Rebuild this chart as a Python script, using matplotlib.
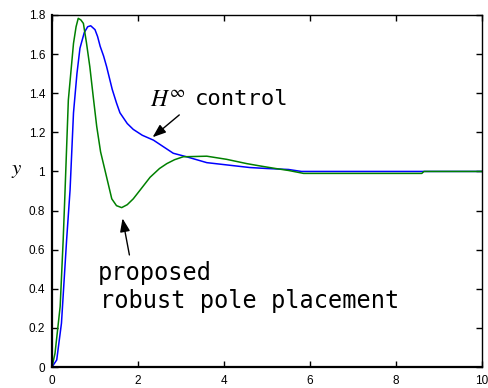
import matplotlib
matplotlib.use("Agg")
import matplotlib.pyplot as plt

# step responses
t_hinf = [0, 0.11, 0.22, 0.34, 0.42, 0.50, 0.58, 0.65, 0.75, 0.83, 0.90, 1.00, 1.06, 1.12, 1.20,
          1.27, 1.40, 1.50, 1.58, 1.75, 1.89, 2.10, 2.36, 2.60, 2.82, 3.13, 3.60, 4.20, 4.60,
          5.00, 5.50, 5.80, 10]
y_hinf = [0, 0.036, 0.224, 0.65, 0.905, 1.30, 1.50, 1.63, 1.71, 1.74, 1.745, 1.725, 1.69, 1.64, 1.59,
          1.536, 1.42, 1.35, 1.30, 1.245, 1.215, 1.185, 1.16, 1.125, 1.093, 1.075, 1.045, 1.03, 1.02,
          1.015, 1.01, 1.0, 1.0]

t_rpp = [0, 0.07, 0.19, 0.26, 0.30, 0.38, 0.50, 0.56, 0.61, 0.67, 0.73, 0.80, 0.88, 0.96, 1.04,
         1.13, 1.23, 1.39, 1.50, 1.62, 1.75, 1.89, 2.05, 2.28, 2.50, 2.67, 2.85, 3.05, 3.60,
         4.06, 4.53, 4.84, 5.20, 5.50, 5.85, 8.60, 8.65, 10]
y_rpp = [0, 0.07, 0.31, 0.65, 0.88, 1.365, 1.655, 1.74, 1.783, 1.775, 1.757, 1.66, 1.535, 1.38, 1.23,
         1.10, 1.008, 0.86, 0.825, 0.815, 0.83, 0.86, 0.905, 0.97, 1.015, 1.04, 1.06, 1.075, 1.078,
         1.062, 1.04, 1.028, 1.015, 1.005, 0.99, 0.99, 1.0, 1.0]

xticks = [0, 2, 4, 6, 8, 10]
yticks = [0, 0.2, 0.4, 0.6, 0.8, 1, 1.2, 1.4, 1.6, 1.8]
ytick_labels = ["0", "0.2", "0.4", "0.6", "0.8", "1", "1.2", "1.4", "1.6", "1.8"]

plt.rcParams["mathtext.fontset"] = "stix"
fig = plt.figure(figsize=(4.88, 3.88), dpi=100)
ax = fig.add_axes([52 / 488, 21 / 388, 430 / 488, 352 / 388])

ax.plot(t_hinf, y_hinf, color="#0000ff", lw=1.1)
ax.plot(t_rpp, y_rpp, color="#008000", lw=1.1)

ax.set_xlim(0, 10); ax.set_ylim(0, 1.8)
ax.set_xticks(xticks); ax.set_xticklabels([str(v) for v in xticks])
ax.set_yticks(yticks); ax.set_yticklabels(ytick_labels)
ax.tick_params(direction="in", top=True, right=True, length=4, width=1, labelsize=8.5)
ax.tick_params(axis="x", pad=6); ax.tick_params(axis="y", pad=5)
for lab in ax.get_xticklabels() + ax.get_yticklabels():
    lab.set_family("Liberation Sans")
for s in ax.spines.values():
    s.set_linewidth(1.0)
ax.spines["left"].set_linewidth(1.6); ax.spines["bottom"].set_linewidth(1.6)

ax.set_ylabel("$y$", rotation=0, fontsize=15)
ax.yaxis.set_label_coords(-0.082, 0.53)

mono = "DejaVu Sans Mono"
ax.text(2.28, 1.33, r"$H^{\infty}$", fontsize=17, va="baseline")
ax.text(3.33, 1.34, "control", family=mono, fontsize=16, va="baseline")
ax.annotate("", xy=(2.34, 1.175), xytext=(2.96, 1.289),
            arrowprops=dict(arrowstyle="-|>,head_length=0.8,head_width=0.3", color="k",
                            lw=1, shrinkA=0, shrinkB=0))

ax.text(1.07, 0.445, "proposed", family=mono, fontsize=17, va="baseline")
ax.text(1.12, 0.302, "robust pole placement", family=mono, fontsize=17, va="baseline")
ax.annotate("", xy=(1.64, 0.76), xytext=(1.80, 0.573),
            arrowprops=dict(arrowstyle="-|>,head_length=0.8,head_width=0.3", color="k",
                            lw=1, shrinkA=0, shrinkB=0))

fig.savefig("out.png", dpi=100)
